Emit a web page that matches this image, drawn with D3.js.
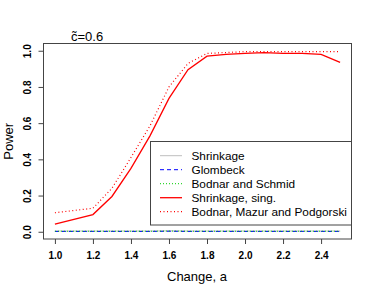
<!DOCTYPE html>
<html>
<head>
<meta charset="utf-8">
<script src="https://cdn.jsdelivr.net/npm/d3@7"></script>
<style>
  body { margin: 0; background: #fff; }
  text { font-family: "Liberation Sans", Arial, sans-serif; }
</style>
</head>
<body>
<svg id="chart"></svg>
<script>
// Data
const change = [1.0, 1.2, 1.3, 1.4, 1.5, 1.6, 1.7, 1.8, 1.9, 2.0, 2.1, 2.2, 2.3, 2.4, 2.5];
const shrinkage    = [0.004, 0.004, 0.004, 0.004, 0.004, 0.005, 0.004, 0.004, 0.004, 0.004, 0.004, 0.004, 0.004, 0.004, 0.004];
const glombeck     = [0.002, 0.002, 0.002, 0.002, 0.002, 0.003, 0.002, 0.002, 0.002, 0.002, 0.002, 0.002, 0.002, 0.002, 0.002];
const bodnarSchmid = [0.003, 0.003, 0.003, 0.003, 0.003, 0.004, 0.003, 0.003, 0.003, 0.003, 0.003, 0.003, 0.003, 0.003, 0.003];
const shrinkSing   = [0.042, 0.095, 0.195, 0.35, 0.53, 0.737, 0.895, 0.97, 0.98, 0.985, 0.99, 0.985, 0.985, 0.98, 0.936];
const bmp          = [0.105, 0.13, 0.24, 0.41, 0.585, 0.80, 0.93, 0.985, 0.99, 0.995, 0.995, 0.995, 0.995, 0.995, 0.995];
const xTicks = [1.0, 1.2, 1.4, 1.6, 1.8, 2.0, 2.2, 2.4];
const yTicks = [0.0, 0.2, 0.4, 0.6, 0.8, 1.0];

const series = [
  {name: "Shrinkage", values: shrinkage, color: "#bebebe", dash: null, w: 1},
  {name: "Glombeck", values: glombeck, color: "#0000ff", dash: "4,3", w: 1},
  {name: "Bodnar and Schmid", values: bodnarSchmid, color: "#00cd00", dash: "1,2", w: 1},
  {name: "Shrinkage, sing.", values: shrinkSing, color: "#ff0000", dash: null, w: 1.3},
  {name: "Bodnar, Mazur and Podgorski", values: bmp, color: "#ff0000", dash: "1,2.5", w: 1.2}
];

const width = 374, height = 294;
const margin = {top: 43.5, bottom: 55, left: 43.5, right: 22.5};

const svg = d3.select("#chart")
  .attr("width", width)
  .attr("height", height);

const xScale = d3.scaleLinear()
  .domain([0.94, 2.56])
  .range([margin.left, width - margin.right]);

const yScale = d3.scaleLinear()
  .domain([-0.04, 1.04])
  .range([height - margin.bottom, margin.top]);

// Axes
const xAxis = svg.append("g")
  .attr("transform", `translate(0,${height - margin.bottom})`)
  .call(d3.axisBottom(xScale).tickValues(xTicks).tickSize(5).tickPadding(8).tickFormat(d3.format(".1f")));
xAxis.select(".domain").remove();
xAxis.selectAll("line").attr("stroke", "#444");
xAxis.selectAll("text")
  .style("font-size", "10px").style("font-weight", "bold").attr("fill", "#000");

const yAxis = svg.append("g")
  .attr("transform", `translate(${margin.left},0)`)
  .call(d3.axisLeft(yScale).tickValues(yTicks).tickSize(5).tickFormat(d3.format(".1f")));
yAxis.select(".domain").remove();
yAxis.selectAll("line").attr("stroke", "#444");
yAxis.selectAll("text")
  .attr("x", 0).attr("dy", null)
  .attr("text-anchor", "middle")
  .attr("transform", "translate(-15,0) rotate(-90)")
  .attr("dominant-baseline", "middle")
  .style("font-size", "10px").style("font-weight", "bold").attr("fill", "#000");

// Plot box
svg.append("rect")
  .attr("x", margin.left).attr("y", margin.top)
  .attr("width", width - margin.left - margin.right)
  .attr("height", height - margin.top - margin.bottom)
  .attr("fill", "none").attr("stroke", "#444").attr("stroke-width", 1);

// Lines
const line = d3.line()
  .x((d, i) => xScale(change[i]))
  .y(d => yScale(d));

series.forEach(function(s) {
  svg.append("path")
    .datum(s.values)
    .attr("d", line)
    .attr("fill", "none")
    .attr("stroke", s.color)
    .attr("stroke-width", s.w)
    .attr("stroke-dasharray", s.dash);
});

// Labels
svg.append("text")
  .attr("x", (margin.left + width - margin.right) / 2 - 0.5)
  .attr("y", 281)
  .attr("text-anchor", "middle")
  .style("font-size", "13px")
  .text("Change, a");

svg.append("text")
  .attr("transform", `translate(13,${(margin.top + height - margin.bottom) / 2}) rotate(-90)`)
  .attr("text-anchor", "middle")
  .style("font-size", "13px")
  .text("Power");

svg.append("text")
  .attr("x", 71)
  .attr("y", 41)
  .style("font-size", "13px")
  .text("c\u0303=0.6");

// Legend
svg.append("rect")
  .attr("x", 150.5).attr("y", 141.5)
  .attr("width", 201).attr("height", 83.5)
  .attr("fill", "#fff").attr("stroke", "#444").attr("stroke-width", 1);

const legend = svg.selectAll(".legend")
  .data(series)
  .enter().append("g")
  .attr("class", "legend")
  .attr("transform", (d, i) => "translate(0," + (155.7 + i * 14) + ")");

legend.append("line")
  .attr("x1", 160).attr("x2", 182)
  .attr("y1", 0).attr("y2", 0)
  .attr("stroke", d => d.color)
  .attr("stroke-width", d => d.w)
  .attr("stroke-dasharray", d => d.dash);

legend.append("text")
  .attr("x", 191.5)
  .attr("y", 0)
  .attr("dy", "0.35em")
  .style("font-size", "11.8px")
  .text(d => d.name);
</script>
</body>
</html>
